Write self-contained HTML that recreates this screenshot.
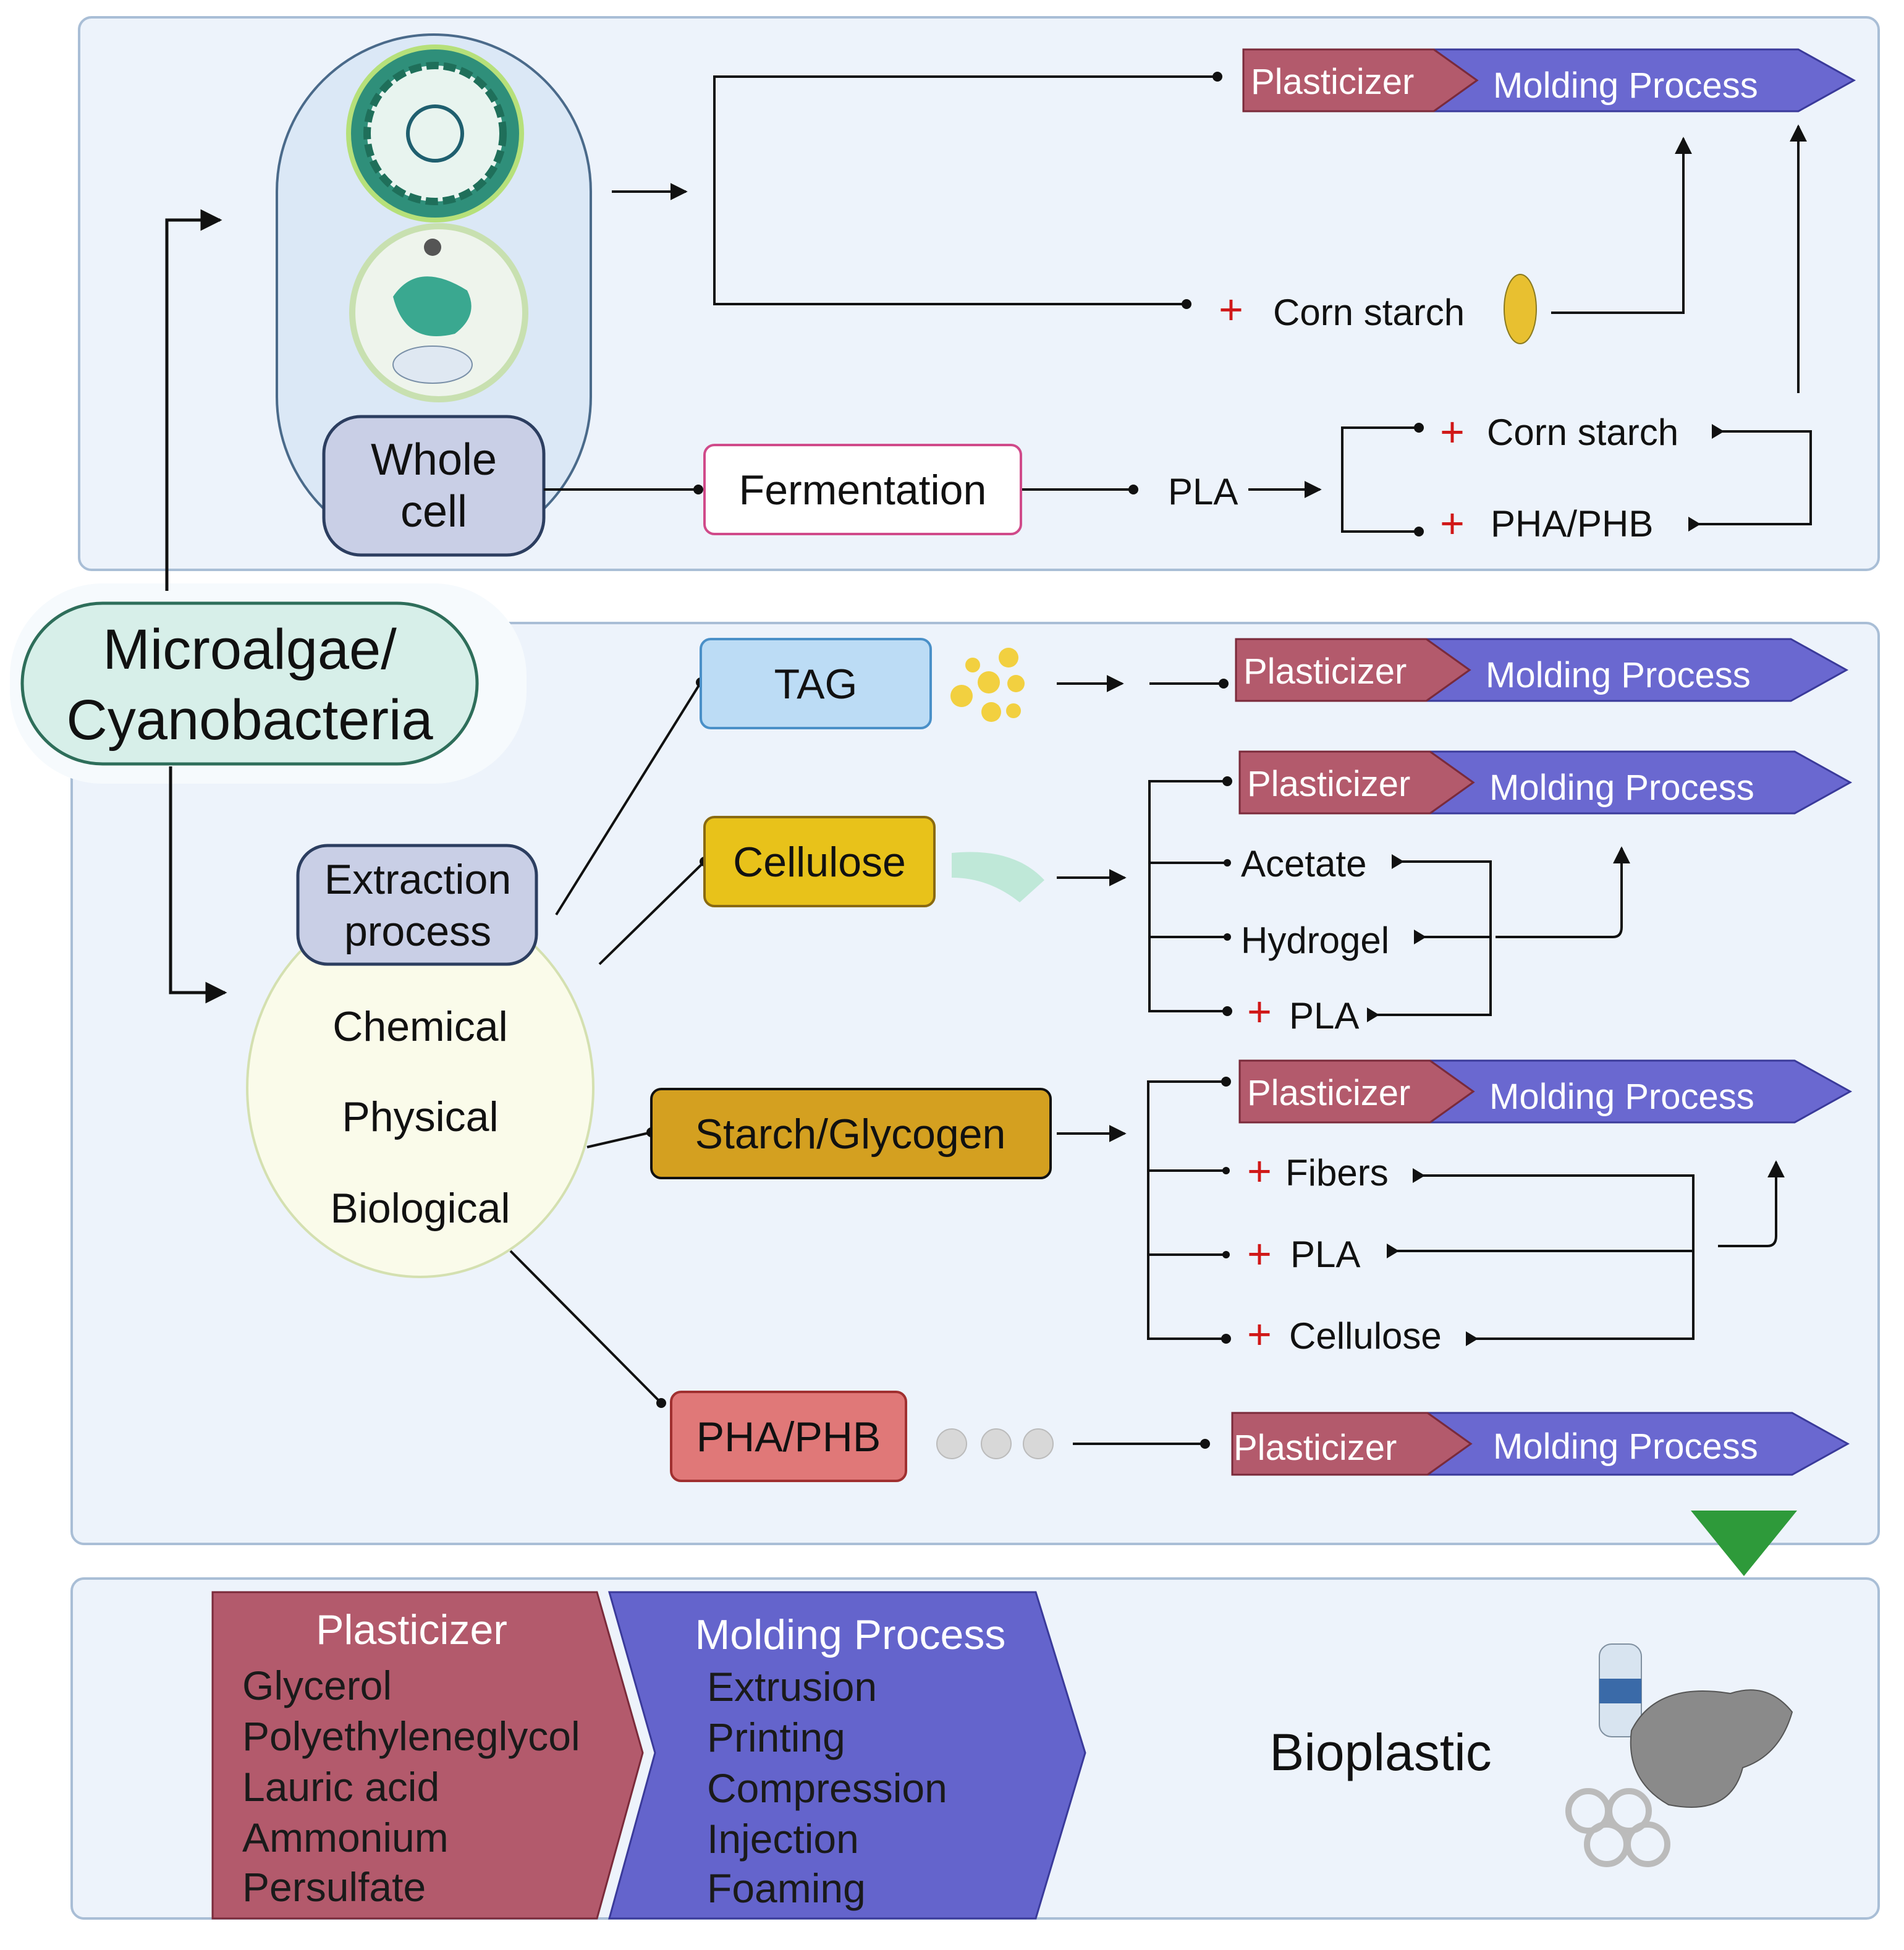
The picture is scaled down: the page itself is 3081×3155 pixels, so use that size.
<!DOCTYPE html>
<html><head><meta charset="utf-8"><style>
html,body{margin:0;padding:0;background:#fff}
svg{display:block}
text{font-family:"Liberation Sans",sans-serif}
</style></head><body>
<svg width="3081" height="3155" viewBox="0 0 1540.5 1577.5" xmlns="http://www.w3.org/2000/svg">
<defs>
<marker id="ar" viewBox="0 0 10 10" refX="9" refY="5" markerWidth="7" markerHeight="7" orient="auto"><path d="M0,0 L10,5 L0,10 z" fill="#111"/></marker>
<marker id="dt" viewBox="0 0 10 10" refX="5" refY="5" markerWidth="4" markerHeight="4"><circle cx="5" cy="5" r="5" fill="#111"/></marker>
</defs>
<rect width="1540.5" height="1577.5" fill="#fff"/>
<!-- panels -->
<rect x="64" y="14" width="1456" height="447" rx="10" fill="#edf3fb" stroke="#a9bed6" stroke-width="2"/>
<rect x="58" y="504" width="1462" height="745" rx="10" fill="#edf3fb" stroke="#a9bed6" stroke-width="2"/>
<rect x="58" y="1277" width="1462" height="275" rx="10" fill="#edf3fb" stroke="#a9bed6" stroke-width="2"/>
<!-- microalgae -->
<rect x="8" y="472" width="418" height="162" rx="75" fill="#f6fafd"/>
<rect x="18" y="488" width="368" height="130" rx="65" fill="#d7efe9" stroke="#2e6e5a" stroke-width="2.5"/>
<text x="202" y="541" font-size="46" text-anchor="middle" fill="#111">Microalgae/</text>
<text x="202" y="598" font-size="46" text-anchor="middle" fill="#111">Cyanobacteria</text>
<g fill="none" stroke="#111" stroke-width="2.5">
<path d="M135,478 V178 H178" marker-end="url(#ar)"/>
<path d="M138,620 V803 H182" marker-end="url(#ar)"/>
</g>
<!-- cell container -->
<rect x="224" y="28" width="254" height="420" rx="127" fill="#dbe8f6" stroke="#4a6a8a" stroke-width="2"/>
<circle cx="352" cy="108" r="70" fill="#2f8f7a" stroke="#b6e07a" stroke-width="4"/>
<circle cx="352" cy="108" r="55" fill="#e8f4ef" stroke="#1f6f5a" stroke-width="6" stroke-dasharray="10 4"/>
<circle cx="352" cy="108" r="22" fill="none" stroke="#1f5f6f" stroke-width="3"/>
<circle cx="355" cy="253" r="70" fill="#eef4ec" stroke="#c8e0b0" stroke-width="5"/>
<path d="M318,240 q20,-30 60,-5 q10,20 -10,35 q-40,10 -50,-30z" fill="#3aa890"/>
<ellipse cx="350" cy="295" rx="32" ry="15" fill="#dfe8f2" stroke="#7a90a8"/>
<circle cx="350" cy="200" r="7" fill="#555"/>
<rect x="262" y="337" width="178" height="112" rx="30" fill="#c9cfe6" stroke="#2c3e60" stroke-width="2.5"/>
<text x="351" y="384" font-size="36" text-anchor="middle" fill="#111">Whole</text>
<text x="351" y="426" font-size="36" text-anchor="middle" fill="#111">cell</text>
<g fill="none" stroke="#111" stroke-width="2">
<path d="M495,155 H555" marker-end="url(#ar)"/>
<path d="M985,62 H578 V246 H960" marker-start="url(#dt)" marker-end="url(#dt)"/>
<path d="M1255,253 H1362 V112" marker-end="url(#ar)"/>
<path d="M1455,318 V102" marker-end="url(#ar)"/>
<path d="M440,396 H565" marker-end="url(#dt)"/>
<path d="M826,396 H917" marker-end="url(#dt)"/>
<path d="M1010,396 H1068" marker-end="url(#ar)"/>
<path d="M1148,346 H1086 V430 H1148" marker-start="url(#dt)" marker-end="url(#dt)"/>
<path d="M1385,349 H1465 V424 H1366"/>
</g>
<path d="M1385,343 l10,6 l-10,6z M1366,418 l10,6 l-10,6z" fill="#111"/>
<text x="996" y="262" font-size="34" fill="#d01818" text-anchor="middle">+</text>
<text x="1030" y="263" font-size="30" fill="#111">Corn starch</text>
<ellipse cx="1230" cy="250" rx="13" ry="28" fill="#e8c030" stroke="#8a7a20"/>
<text x="570" y="0" font-size="1"> </text>
<rect x="570" y="360" width="256" height="72" rx="8" fill="#fff" stroke="#d04a8a" stroke-width="2"/>
<text x="698" y="408" font-size="34" text-anchor="middle" fill="#111">Fermentation</text>
<text x="945" y="408" font-size="30" fill="#111">PLA</text>
<text x="1175" y="361" font-size="34" fill="#d01818" text-anchor="middle">+</text>
<text x="1203" y="360" font-size="30" fill="#111">Corn starch</text>
<text x="1175" y="435" font-size="34" fill="#d01818" text-anchor="middle">+</text>
<text x="1206" y="434" font-size="30" fill="#111">PHA/PHB</text>
<!-- plasticizer/molding chevrons -->
<g id="pm1">
<path d="M1160,40 H1455 L1500,65 L1455,90 H1160 L1195,65z" fill="#6a68d0" stroke="#3a3a9a" stroke-width="1.5"/>
<path d="M1006,40 H1160 L1195,65 L1160,90 H1006z" fill="#b35a6c" stroke="#7a2a3a" stroke-width="1.5"/>
<text x="1012" y="76" font-size="29" fill="#fff">Plasticizer</text>
<text x="1208" y="79" font-size="29" fill="#fff">Molding Process</text>
</g>
<use href="#pm1" transform="translate(-6,477)"/>
<use href="#pm1" transform="translate(-3,568)"/>
<use href="#pm1" transform="translate(-3,818)"/>
<g>
<path d="M1155,1143 H1450 L1495,1168 L1450,1193 H1155 L1190,1168z" fill="#6a68d0" stroke="#3a3a9a" stroke-width="1.5"/>
<path d="M997,1143 H1155 L1190,1168 L1155,1193 H997z" fill="#b35a6c" stroke="#7a2a3a" stroke-width="1.5"/>
<text x="998" y="1181" font-size="29" fill="#fff">Plasticizer</text>
<text x="1208" y="1180" font-size="29" fill="#fff">Molding Process</text>
</g>
<!-- middle -->
<ellipse cx="340" cy="880" rx="140" ry="153" fill="#fafbea" stroke="#d4e0b0" stroke-width="2"/>
<rect x="241" y="684" width="193" height="96" rx="24" fill="#c9cfe6" stroke="#2c3e60" stroke-width="2.5"/>
<text x="338" y="723" font-size="34" text-anchor="middle" fill="#111">Extraction</text>
<text x="338" y="765" font-size="34" text-anchor="middle" fill="#111">process</text>
<text x="340" y="842" font-size="34" text-anchor="middle" fill="#111">Chemical</text>
<text x="340" y="915" font-size="34" text-anchor="middle" fill="#111">Physical</text>
<text x="340" y="989" font-size="34" text-anchor="middle" fill="#111">Biological</text>
<g fill="none" stroke="#111" stroke-width="2">
<path d="M450,740 L567,552" marker-end="url(#dt)"/>
<path d="M485,780 L570,697" marker-end="url(#dt)"/>
<path d="M475,928 L527,916" marker-end="url(#dt)"/>
<path d="M413,1012 L535,1135" marker-end="url(#dt)"/>
<path d="M855,553 H908" marker-end="url(#ar)"/>
<path d="M930,553 H990" marker-end="url(#dt)"/>
<path d="M855,710 H910" marker-end="url(#ar)"/>
<path d="M993,632 H930 V818 H993" marker-start="url(#dt)" marker-end="url(#dt)"/>
<path d="M930,698 H993 M930,758 H993" />
<path d="M1130,697 H1206 V821 H1110 M1148,758 H1206"/>
<path d="M1210,758 H1305 Q1312,758 1312,750 V686" marker-end="url(#ar)"/>
<path d="M855,917 H910" marker-end="url(#ar)"/>
<path d="M992,875 H929 V1083 H992" marker-start="url(#dt)" marker-end="url(#dt)"/>
<path d="M929,947 H992 M929,1015 H992"/>
<path d="M1148,951 H1370 V1083 H1190 M1127,1012 H1370"/>
<path d="M1390,1008 H1430 Q1437,1008 1437,1000 V940" marker-end="url(#ar)"/>
<path d="M868,1168 H975" marker-end="url(#dt)"/>
</g>
<g fill="#111"><circle cx="993" cy="698" r="3"/><circle cx="993" cy="758" r="3"/><circle cx="992" cy="947" r="3"/><circle cx="992" cy="1015" r="3"/>
<path d="M1126,691 l10,6 l-10,6z M1144,752 l10,6 l-10,6z M1106,815 l10,6 l-10,6z M1143,945 l10,6 l-10,6z M1122,1006 l10,6 l-10,6z M1186,1077 l10,6 l-10,6z"/></g>
<rect x="567" y="517" width="186" height="72" rx="8" fill="#bcdcf5" stroke="#4a90c8" stroke-width="2"/>
<text x="660" y="565" font-size="34" text-anchor="middle" fill="#111">TAG</text>
<g fill="#f2d040"><circle cx="800" cy="552" r="9"/><circle cx="778" cy="563" r="9"/><circle cx="816" cy="532" r="8"/><circle cx="802" cy="576" r="8"/><circle cx="822" cy="553" r="7"/><circle cx="787" cy="538" r="6"/><circle cx="820" cy="575" r="6"/></g>
<rect x="570" y="661" width="186" height="72" rx="8" fill="#e8c21a" stroke="#8a6a10" stroke-width="2"/>
<text x="663" y="709" font-size="34" text-anchor="middle" fill="#111">Cellulose</text>
<path d="M770,690 Q820,685 845,712 L825,730 Q800,710 770,710z" fill="#bfe8d8"/>
<text x="1004" y="709" font-size="30" fill="#111">Acetate</text>
<text x="1004" y="771" font-size="30" fill="#111">Hydrogel</text>
<text x="1019" y="830" font-size="34" fill="#d01818" text-anchor="middle">+</text>
<text x="1043" y="832" font-size="30" fill="#111">PLA</text>
<rect x="527" y="881" width="323" height="72" rx="8" fill="#d4a020" stroke="#111" stroke-width="2"/>
<text x="688" y="929" font-size="34" text-anchor="middle" fill="#111">Starch/Glycogen</text>
<text x="1019" y="959" font-size="34" fill="#d01818" text-anchor="middle">+</text>
<text x="1040" y="959" font-size="30" fill="#111">Fibers</text>
<text x="1019" y="1026" font-size="34" fill="#d01818" text-anchor="middle">+</text>
<text x="1044" y="1025" font-size="30" fill="#111">PLA</text>
<text x="1019" y="1091" font-size="34" fill="#d01818" text-anchor="middle">+</text>
<text x="1043" y="1091" font-size="30" fill="#111">Cellulose</text>
<rect x="543" y="1126" width="190" height="72" rx="8" fill="#e07878" stroke="#a03030" stroke-width="2"/>
<text x="638" y="1174" font-size="34" text-anchor="middle" fill="#111">PHA/PHB</text>
<g fill="#d8d8d8" stroke="#bbb"><circle cx="770" cy="1168" r="12"/><circle cx="806" cy="1168" r="12"/><circle cx="840" cy="1168" r="12"/></g>
<path d="M1368,1222 H1454 L1411,1275z" fill="#2e9a3a"/>
<!-- bottom -->
<path d="M172,1288 H483 L520,1418 L483,1552 H172z" fill="#b35a6c" stroke="#7a2a3a" stroke-width="1.5"/>
<path d="M493,1288 H838 L878,1418 L838,1552 H493 L530,1418z" fill="#6464cc" stroke="#3a3a9a" stroke-width="1.5"/>
<text x="333" y="1330" font-size="34" text-anchor="middle" fill="#fff">Plasticizer</text>
<g font-size="33" fill="#1a1a1a">
<text x="196" y="1375">Glycerol</text><text x="196" y="1416">Polyethyleneglycol</text><text x="196" y="1457">Lauric acid</text><text x="196" y="1498">Ammonium</text><text x="196" y="1538">Persulfate</text>
<text x="572" y="1376">Extrusion</text><text x="572" y="1417">Printing</text><text x="572" y="1458">Compression</text><text x="572" y="1499">Injection</text><text x="572" y="1539">Foaming</text>
</g>
<text x="688" y="1334" font-size="34" text-anchor="middle" fill="#fff">Molding Process</text>
<text x="1117" y="1432" font-size="42" text-anchor="middle" fill="#111">Bioplastic</text>
<rect x="1294" y="1330" width="34" height="75" rx="10" fill="#d8e4f0" stroke="#8090a0"/>
<rect x="1294" y="1358" width="34" height="20" fill="#3a6aa8"/>
<path d="M1320,1400 Q1340,1360 1400,1370 Q1430,1360 1450,1385 Q1440,1420 1410,1430 Q1400,1470 1350,1460 Q1315,1440 1320,1400z" fill="#8a8a8a" stroke="#555"/>
<g fill="none" stroke="#bbb" stroke-width="5"><circle cx="1285" cy="1465" r="16"/><circle cx="1318" cy="1465" r="16"/><circle cx="1300" cy="1492" r="16"/><circle cx="1333" cy="1492" r="16"/></g>
</svg>
</body></html>
